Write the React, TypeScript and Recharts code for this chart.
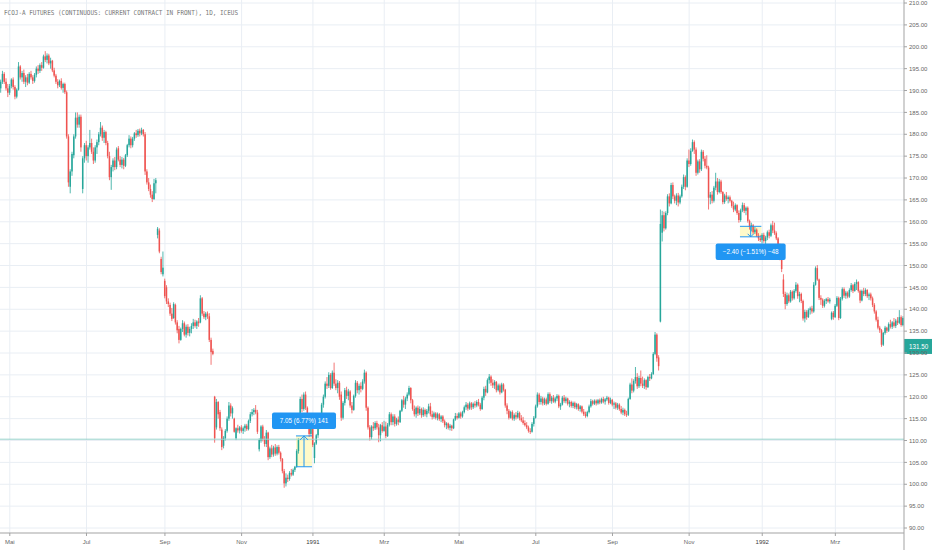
import React, { useState } from 'react';
import { createPortal } from 'react-dom';
import { ComposedChart, Bar, XAxis, YAxis, CartesianGrid, ReferenceLine, ReferenceArea } from 'recharts';

type C = [number, number, number, number]; // open, high, low, close

const apr90: C[] = [
  [190.5,192.5,189.5,192],[192,194.5,191.5,193.8],[193.8,194.2,191.5,192],[192,192.8,190,190.5],[190.5,191.5,188.5,189.5],
];
const mayJun90: C[] = [
  [189.5,191.5,189,191],[191,192.8,190.5,192.5],[192.5,193,190.2,190.8],[190.8,191.2,188,188.6],[188.6,190.5,188.2,190.2],
  [190.2,196.5,190,195.5],[195.5,195.8,192.5,193],[193,194.5,192,194],[194,194.8,191.5,192],[192,193.5,190.8,193],
  [193,193.8,191.2,191.8],[191.8,194.2,191.5,193.8],[193.8,194.5,192.5,193],[193,193.5,191.5,192.2],[192.2,194,191.8,193.6],
  [193.6,195.5,193,195],[195,195.8,193.8,194.5],[194.5,196.2,194,195.8],[195.8,196.5,194.5,195.2],[195.2,198.2,195,197.8],
  [197.8,199,196.5,197],[197,198.5,196.2,198],[198,198.4,195.8,196.2],[196.2,197.5,195,196.8],[196.8,197,194.2,194.6],
  [194.6,195.2,193,193.4],[193.4,193.8,191.5,192],[192,192.6,190.5,191.2],[191.2,192.5,190.8,192.2],[192.2,192.8,190.2,190.6],
  [190.6,191.8,189.5,191.5],[191.5,191.8,189.2,189.6],[189.6,190,179,179.5],[179.5,180,168,169],[168,172,166.5,171.5],
  [171.5,176,170.5,175.5],[175.2,180,174.5,179.5],[179.5,185,179,183.8],[183.8,185,181.5,182.2],[182.2,184.5,181.5,184],
  [184,184.5,176,177],[167.5,175,166.5,174.5],[174.5,178,173.5,177.5],
];
const julAug90: C[] = [
  [177.5,178.5,174,175],[175,177.5,173.5,177],[177,181,176.5,178],[178,179,175.5,176],[176,177,173.2,174],
  [174,177.5,173.5,177],[177,178.8,175.5,178.2],[178.2,180.5,177.5,180],[180,182.8,179.5,181.5],[181.5,182,178.5,179.2],
  [179.2,181,178,180.5],[180.5,180.8,177.5,178],[178,178.5,174.5,175],[175,176,169.5,170.2],[170.2,173,167.3,172.5],
  [172.5,174.5,171.5,174],[174,174.8,171.8,172.5],[172.5,177,172,176.5],[176.8,177.3,173.8,174.2],[174.2,175,172.5,173],
  [173,174.8,172.2,174.2],[174.2,174.6,172,172.8],[172.8,175.5,172.5,175.2],[175.2,177.8,174.8,177.5],[177.5,179.8,177,179],
  [179,179.5,176.8,177.5],[177.5,179.4,177,179],[179,180.5,178.5,180.2],[180.2,181,179.2,179.8],[179.8,181.2,179.4,180.8],
  [180.8,181.3,179.5,180.2],[180.2,181.5,179.8,181],[181,181.2,179.5,180],[180,180.5,170.7,171.5],[171.5,172,168.5,169],
  [169,170,167,167.5],[167.5,168.5,165.5,166.2],[166.2,167,164.5,165.2],[165.2,169.8,165,168.8],[168.8,170,166.5,169.5],
  [157,158.8,156.2,158.4],[158,158.5,152.8,153.2],[151.5,152,148,148.5],[148,153.2,147.5,149.5],
];
const sepOct90: C[] = [
  [146.5,147,142.5,143],[145,145.5,141.2,141.8],[141.8,142.5,140.5,141.2],[141,141.5,138.5,139],[139,140.3,137.3,137.8],
  [138,141.6,137.8,141.2],[141,141.3,136.5,137],[137,137.5,134.5,135.2],[135.5,136.2,132.2,133],[133,135.8,132.8,135.5],
  [135.5,137.5,134.8,136.8],[136.8,137.2,133.8,134.2],[134.2,136.5,133.5,136],[136,136.6,134,134.6],[134.6,136,133.8,135.5],
  [135.5,136.8,134.5,136.2],[136.2,137.8,135.5,137],[137,137.6,135.8,136.2],[136.2,137.5,135.5,137.2],[137.2,138,136,136.8],
  [137,143.2,136.8,142.5],[142.5,142.8,138.5,139],[139,139.6,137.8,138.2],[138.2,139.4,137.5,139],[139,139.5,137.8,138.4],
  [138.4,139.1,132.5,133],[133,133.5,127.3,130.2],[130.5,131,129.5,129.8],[120,120.2,109.5,110.5],[113,119.5,112.5,118.8],
  [118.8,119,115,116],[116.5,117,112.2,112.8],[112.5,113,107.8,108.5],[108.8,111,108.2,110.6],[110.5,112.6,110,112.2],
  [112.2,115.5,111.8,115],[115,118.8,114.5,118],[118,118.5,115.5,116.2],[116.2,117.8,115,117.4],[115,115.2,111.8,112],
  [110.5,113,110.1,112.8],[112.8,113.6,111.8,112.3],[112.3,113.3,111.6,113],
];
const novDec90: C[] = [
  [113,113.5,111.8,112.2],[112.2,113.2,111.5,112.8],[112.8,113.8,112,113.4],[113.4,113.8,112.2,112.6],[112.6,114.8,112.3,114.5],
  [114.5,116.5,114,116],[116,117.2,115.5,116.5],[116.5,117.4,115.8,117],[117,118.1,116,116.4],[116.4,117,111.5,112],
  [108,110.5,107.5,110.1],[110,113.5,109.5,113.2],[113.2,113.6,109.8,110.3],[110.3,111,108.6,109.2],[109.2,112.4,108.5,111.8],
  [111.8,112,105.5,106.2],[106.2,108.6,105.8,108.2],[108.2,109,106.2,106.8],[106.8,108.8,106.3,108.4],[108.4,109.2,106.5,107],
  [107,108.9,106.6,108.5],[108.5,109,106.8,107.2],[107.2,107.5,105.2,105.8],[105.8,106,102.5,103],[103,103.5,99.2,100.2],
  [100.2,102.5,99.5,101.5],[101.5,102.2,100.5,101.2],[101.2,103,100.8,102.6],[102.6,103.5,101.8,102.2],[102.2,103.6,101.9,103.3],
  [103.3,104.2,102.8,104],[104,108,103.8,107.6],[107.6,110.5,107,110.1],[113,120,112.8,119.5],[119.5,120.5,116.5,117.2],
  [117.2,121,116.8,120.5],[120.5,121.2,117,117.5],[117.5,117.8,113.5,114],[114,114.5,110.8,111.5],[111.5,114.2,111,113.5],
];
const janFeb91: C[] = [
  [113.5,114,108.5,109],[106,109.6,104.8,109.3],[109.3,111.5,109,111.2],[111.2,113.3,110.6,113],[113,115.5,112.6,115.2],
  [115.2,118.6,115,118.2],[118.2,120.5,117.5,120],[120,123.5,119.6,123],[123,124.5,121.8,122.5],[122.5,125.6,122,125],
  [125,125.4,121.6,122],[122,126,121.8,125.5],[125.5,127.8,122.5,123],[123,124,121.5,122],[122,123.8,120.8,123.2],
  [123.2,123.6,119.3,120],[120.5,121.2,114.5,115.2],[115.2,119,114.8,118.6],[118.6,122,118,121.5],[121.5,122.3,119.5,120.2],
  [120.2,121.8,119.2,121.2],[121.2,121.5,117.5,118],[118,118.8,116.2,117],[117,120.5,116.8,120.2],[120.2,123.8,119.8,123.2],
  [123.2,123.6,120.8,121.5],[121.5,123,120.5,122.5],[122.5,123.3,121,121.8],[121.8,124,121.5,123.5],[123.5,126.2,123,125.5],
  [125.5,125.8,116.8,117.5],[117.5,117.8,112.5,113],[113,113.5,110,110.8],[110.8,113.5,110.2,113.2],[113.2,114.2,112.2,112.8],
  [112.8,114.4,112.4,114],[114,114.5,112.5,113],[113,113.8,109.6,111.2],[111.2,113.8,109.8,113.5],[113.5,114.2,111.8,112.2],
];
const marApr91: C[] = [
  [112.2,114.5,112,113.2],[113.2,114.3,110.5,111],[111,114,110.8,113.6],[113.6,116.5,113.2,116],[116,116.4,113.5,114.2],
  [114.2,116,113.5,115.5],[115.5,116,113.2,113.8],[113.8,115.2,113.4,114.8],[114.8,115.5,113.5,114.2],[114.2,117,114,116.8],
  [116.8,119.5,116.5,119.2],[119.2,120.2,117.5,118.2],[118.2,120,117.2,119.6],[119.6,121,119,120.5],[120.5,122.5,120.2,122],
  [122,122.2,118.5,119.2],[119.2,119.5,116.8,117.2],[117.2,118,115.5,116],[116,117.8,115.2,117.5],[117.5,118,115.6,116.2],
  [116.2,117.8,115.8,117.2],[117.2,117.5,115.2,115.8],[115.8,117.6,115.4,117],[117,117.3,115.5,116],[116,117.2,115.3,116.8],
  [116.8,118.4,116.2,117.8],[117.8,118.6,115.5,116],[116,116.8,114.8,115.4],[115.4,116.6,115,116.2],[116.2,116.5,114.8,115.2],
  [115.2,116.4,114.6,116],[116,116.3,114.5,114.9],[114.9,115.8,114.2,115.5],[115.5,115.8,114,114.4],[114.4,114.8,113,113.5],
  [113.5,114.2,112.6,113.9],[113.9,114.1,112.5,112.9],[112.9,113.8,112.3,113.4],[113.4,113.6,112.2,112.8],[112.8,115,112.6,114.8],
  [114.8,116.3,114.5,115.6],[115.6,116.2,114.8,115.2],
];
const mayJun91: C[] = [
  [115.2,116.5,115,116.2],[116.2,116.6,115,115.5],[115.5,116.8,115.2,116.5],[116.5,118,116.2,117.6],[117.6,118.8,117,118.2],
  [118.2,118.6,116.8,117.3],[117.3,118.9,117,118.5],[118.5,118.8,117,117.6],[117.6,118.7,117.2,118.4],[118.4,119,117.5,118],
  [118,119.2,117.6,118.8],[118.8,119.5,117.8,118.2],[118.2,118.6,116.8,117.2],[117.2,120.2,117,119.8],[119.8,122.3,119.2,121.8],
  [121.8,122.5,120.2,121],[121,124.2,120.8,123.8],[123.8,125.2,123,124.6],[124.6,124.9,122.5,123.2],[123.2,124,122,122.6],
  [122.6,123.8,121.8,123.4],[123.4,123.6,121,121.5],[121.5,123,121.2,122.6],[122.6,123,120.5,121],[121,123.2,120.8,122.8],
  [122.8,123.1,121.2,121.6],[121.6,121.8,117.5,118],[118,118.5,116,116.8],[116.8,117.2,114.8,115.2],[115.2,116.8,115,116.5],
  [116.5,116.9,114.6,115],[115,116.2,114.5,115.8],[115.8,116.5,114.8,115.3],[115.3,116.8,115,116.3],[116.3,116.6,114.6,115.1],
  [115.1,115.8,114.2,114.6],[114.6,115.4,113.6,114],[114,114.6,113.2,113.5],[113.5,114.2,112.6,113],[113,113.4,111.8,112.2],
  [112.2,112.8,111.5,112],[112,114.2,111.8,113.8],[113.8,115.6,113.2,115.2],
];
const julAug91: C[] = [
  [115.2,118.2,115,117.8],[117.8,121,117.5,120.5],[120.5,120.9,118.2,118.8],[118.8,120.2,118.2,119.6],[119.6,120,118,118.5],
  [118.5,119.8,118.1,119.4],[119.4,119.8,118,118.4],[118.4,121,118.2,120.6],[120.6,121,118.6,119],[119,120.2,118.4,119.8],
  [119.8,120.4,118.6,118.9],[118.9,120,118.5,119.6],[119.6,120.6,119,120.2],[120.2,120.5,117.4,117.8],[117.8,118.6,117,118.2],
  [118.2,120.2,118,119.8],[119.8,120.4,118.6,119],[119,120,118.5,119.6],[119.6,119.8,118,118.4],[118.4,119.2,117.6,118.8],
  [118.8,119.1,117.5,117.9],[117.9,118.9,117.4,118.6],[118.6,118.9,117.2,117.6],[117.6,118.6,117.1,118.3],[118.3,118.5,116.8,117.2],
  [117.2,118.1,116.6,117.8],[117.8,118,116.2,116.6],[116.6,117.2,115.6,116],[116,116.6,115.2,115.6],[115.6,116.8,115.3,116.5],
  [116.5,118.2,116.2,117.8],[117.8,119.5,117.5,119],[119,119.3,118,118.4],[118.4,119.4,118.1,119.1],[119.1,119.4,118,118.5],
  [118.5,119.5,118.2,119.2],[119.2,119.6,118.3,118.7],[118.7,119.8,118.4,119.5],[119.5,120,118.5,118.9],[118.9,119.7,118.2,119.4],
  [119.4,120.2,119,119.8],[119.8,120,118.2,118.6],[118.6,119.8,118.3,119.3],
];
const sepOct91: C[] = [
  [119.3,119.5,117.8,118.2],[118.2,118.9,117.2,118.5],[118.5,118.8,117.1,117.5],[117.5,118.6,117,118.2],[118.2,118.5,116.8,117.2],
  [117.2,117.9,116,116.4],[116.4,117.5,115.8,117],[117,117.3,115.6,116],[116,116.8,115.4,115.9],[115.9,119.8,115.6,119.5],
  [119.5,123.2,119.3,122.8],[122.8,124.2,120.8,121.4],[121.4,124,121,123.6],[123.6,126.8,123,124.5],[124.5,125.4,121.8,122.4],
  [122.4,124.8,122,124.3],[124.3,126,122.4,123],[123,124.6,122,122.5],[122.5,124.2,121.8,123.8],[123.8,124,121.6,122.2],
  [122.2,124.8,122,124.5],[124.5,125.2,123.6,124.2],[124.2,125.6,124,125.2],[125.2,130.2,125,129.8],[129.8,134.8,129.5,134.2],
  [134.2,134.5,128,128.8],[129,129.5,126,127],[137.2,162.8,137,159.5],[157.5,162.5,155.5,161.5],[161.5,162.3,157.8,158.5],
  [158.5,162.4,158.2,162],[162,166.3,161.5,165.8],[165.8,166.5,163.5,164.2],[164.2,168.9,164,168.4],[168.4,169,165.2,165.8],
  [165.8,166.2,164.2,164.8],[164.8,166.5,163.8,166],[166,166.6,163.5,164.4],[164.4,166.2,164,165.8],[165.8,168.5,165.5,168],
  [168,170.8,167.5,170.2],[170.2,170.6,167.2,168],[168,174.5,167.8,174],
];
const novDec91: C[] = [
  [174,176.5,172.5,173.2],[173.2,176.8,172.8,176.2],[176.2,178.8,176,178.2],[178.2,178.6,175.5,176.5],[176.5,177,170.5,171.2],
  [171.2,174.2,170.8,173.8],[173.8,174.3,171.2,172],[172,176.5,171.6,176],[176,176.4,173.8,174.4],[174.4,175,172.2,172.8],
  [172.8,175.2,172,172.4],[172.4,172.8,162.8,165.5],[165.5,166.8,164,166.2],[166.2,167,164.2,164.8],[164.8,168.2,164.4,167.8],
  [167.8,171.2,167.2,169.2],[169.2,170,166.2,166.8],[166.8,169.8,166.5,169.2],[169.2,169.6,166.4,166.8],[166.8,167,164,164.5],
  [164.5,166.4,164.1,166],[166,166.8,164.8,165.2],[165.2,166,164.2,165.6],[165.6,166,164.4,164.8],[164.8,165,163.2,163.6],
  [163.6,164.6,162.2,162.8],[162.8,164.2,162.4,163.8],[163.8,164,161.6,162],[162,162.6,159.8,160.4],[160.4,163,160,162.6],
  [162.6,164.4,162.2,163.8],[163.8,164.3,162,162.5],[162.5,163.5,161.5,163.2],[163.2,163.5,159.8,160.2],[160.2,160.5,158.2,158.8],
  [158.8,159.8,157.8,159.2],[159.2,159.5,157.2,157.6],[157.6,158.8,157.2,158.2],[158.2,158.5,156.5,156.8],[156.8,157.4,155.6,156.2],
  [156.2,157,155.4,155.8],
];
const janFeb92: C[] = [
  [155.8,157.4,155,157],[157,157.5,155.2,155.6],[155.6,156.8,154.8,156.4],[156.4,158,155.8,157.6],[157.6,158.2,156.2,156.8],
  [156.8,159.6,156.5,159.2],[159.2,160.2,157.4,158],[158,159.8,157,157.4],[157.4,157.8,155.8,156.2],[156.2,156.5,154.2,154.6],
  [154.6,155,151.2,151.6],[151.6,152,148.5,149.2],[146.8,148,142.8,143.5],[143.5,144,140,141.2],[141.2,143.8,140.8,143.2],
  [143.2,143.6,141.4,141.8],[141.8,144.4,141.5,144],[144,144.3,142,142.5],[142.5,144.6,142.2,144.2],[144.2,146.2,143.8,145.6],
  [145.6,145.9,142.4,143],[143,144,141.6,143.5],[143.5,143.8,141.4,141.9],[141.9,142.2,137.4,137.9],[137.9,139.9,137,139.4],
  [139.4,139.8,137.6,138.2],[138.2,140.2,138,139.8],[139.8,140.6,138.8,140.2],[140.2,140.8,139,139.5],[139.5,146.2,139.2,145.6],
  [145.6,149.8,145.4,149.4],[149.4,150.1,146.5,146.8],[146.8,147,142.1,142.6],[142.6,143.2,141,142.2],[142.2,142.5,140.3,140.8],
  [140.8,142.3,140.4,141.9],[141.9,142.6,141.2,142.3],[142.3,142.8,141.5,141.8],[141.8,142.6,141.3,142.2],[137.8,139.5,137.5,139.2],
  [139.2,139.6,137.6,138.2],
];
const marApr92: C[] = [
  [138.2,141.2,138,140.8],[140.8,143,140.5,142.6],[142.6,142.9,137.5,138],[138,142.8,137.8,142.4],[142.4,145,142,144.6],
  [144.6,145,142.6,143.1],[143.1,144.2,142.4,143.8],[143.8,144.1,142.5,142.9],[142.9,144.8,142.6,144.4],[144.4,146,144,145.5],
  [145.5,145.8,143.7,144.2],[144.2,146.2,144,145.8],[145.8,146.8,144.4,146.2],[146.2,146.4,143.8,144.2],[144.2,144.5,141.4,142],
  [142,144.5,141.8,144.2],[144.2,144.9,143,143.5],[143.5,144.8,143,144.4],[144.4,144.6,142.6,143],[143,143.8,142.1,143.4],
  [143.4,143.8,142,142.5],[142.5,142.9,140.5,141],[141,141.4,139,139.5],[139.5,139.8,137.2,137.6],[137.6,138.3,135.4,135.8],
  [135.8,136.2,134.6,135.2],[135.2,135.5,131.4,131.9],[131.9,134.8,131.6,134.6],[134.6,136.2,134.2,135.8],[135.8,136,134.6,135.1],
  [135.1,137,134.8,136.6],[136.6,137.6,135.6,136],[136,137.3,135.5,137],[137,138,135.8,136.2],[136.2,137.8,135.7,137.4],
  [137.4,138.2,136.4,136.9],[136.9,139.8,136.6,138.2],[138.2,138.6,136,136.4],[136.4,138.4,136.1,138],
];

// each period after the first starts with a labelled month
const periods: C[][] = [apr90, mayJun90, julAug90, sepOct90, novDec90, janFeb91, marApr91, mayJun91, julAug91, sepOct91, novDec91, janFeb92, marApr92];
const periodLabels = ['', 'Mai', 'Jul', 'Sep', 'Nov', '1991', 'Mrz', 'Mai', 'Jul', 'Sep', 'Nov', '1992', 'Mrz'];
const priceTicks = [90, 95, 100, 105, 110, 115, 120, 125, 130, 135, 140, 145, 150, 155, 160, 165, 170, 175, 180, 185, 190, 195, 200, 205, 210];
const yDomain = [88.86, 210.69];
const lastPrice = 131.5;
const levelLine = 110.3;
const range1 = { fromBar: 166, toBar: 174, low: 104.0, high: 111.05, text: '7.05 (6.77%) 141', up: true, w: 64 };
const range2 = { fromBar: 415, toBar: 426, low: 156.56, high: 158.96, text: '\u22122.40 (\u22121.51%) \u221248', up: false, w: 70 };
const title = 'FCOJ-A FUTURES (CONTINUOUS: CURRENT CONTRACT IN FRONT), 1D, ICEUS';

const data = periods.flat().map(([open, high, low, close], i) => ({ i, open, high, low, close, range: [low, high] }));
const tickIdx: number[] = [];
const tickLabel: Record<number, string> = {};
{
  let acc = 0;
  periods.forEach((p, k) => {
    if (k > 0) { tickIdx.push(acc); tickLabel[acc] = periodLabels[k]; }
    acc += p.length;
  });
}

const GREEN = '#26a69a';
const RED = '#ef5350';
const BLUE = '#2196f3';
const AXIS = '#a3a3a3';
const GRID = '#e9eef4';
const FONT = "'Liberation Sans', Arial, sans-serif";

const Candle = (props: any) => {
  const { x, y, width, height, payload } = props;
  if (x == null || y == null || !payload) return null;
  const { open, high, low, close } = payload;
  const top = Math.min(y, y + height);
  const span = Math.abs(height);
  const k = span / (high - low);
  const yO = top + (high - open) * k;
  const yC = top + (high - close) * k;
  const color = close >= open ? GREEN : RED;
  const cx = x + width / 2;
  const bTop = Math.min(yO, yC);
  const bH = Math.max(Math.abs(yC - yO), 0.7);
  return (
    <g>
      <line x1={cx} x2={cx} y1={top} y2={top + span} stroke={color} strokeWidth={0.8} />
      <rect x={cx - 0.75} y={bTop} width={1.5} height={bH} fill={color} />
    </g>
  );
};

const RangeDecor = (props: any) => {
  const { viewBox, text, up, w, layer } = props;
  if (!viewBox || !layer) return null;
  const { x, y, width, height } = viewBox;
  const cx = x + width / 2;
  const bottom = y + height;
  const h = 16.5;
  const boxTop = up ? y - 7 - h : bottom + 6.6;
  const tipY = up ? y : bottom;
  const baseY = up ? bottom : y;
  const d = up ? 4 : -3;
  return createPortal(
    <g>
      <line x1={x} x2={x + width} y1={y} y2={y} stroke={BLUE} strokeWidth={1} />
      <line x1={x} x2={x + width} y1={bottom} y2={bottom} stroke={BLUE} strokeWidth={1} />
      <line x1={cx} x2={cx} y1={baseY} y2={tipY} stroke={BLUE} strokeWidth={1} />
      <polyline points={`${cx - Math.abs(d)},${tipY + d} ${cx},${tipY} ${cx + Math.abs(d)},${tipY + d}`} fill="none" stroke={BLUE} strokeWidth={1} />
      <rect x={cx - w / 2} y={boxTop} width={w} height={h} rx={2} fill={BLUE} />
      <text x={cx} y={boxTop + h / 2} textAnchor="middle" dominantBaseline="central" fill="#fff" fontSize={6.3} fontFamily={FONT}>{text}</text>
    </g>,
    layer
  );
};

const PriceTag = (props: any) => {
  const { viewBox, value } = props;
  if (!viewBox) return null;
  const ax = viewBox.x + viewBox.width;
  const yy = viewBox.y;
  return (
    <g>
      <rect x={ax} y={yy - 7.5} width={28} height={15} fill={GREEN} />
      <text x={ax + 5} y={yy} dominantBaseline="central" fill="#fff" fontSize={6.3} fontFamily={FONT}>{value.toFixed(2)}</text>
    </g>
  );
};

const XTick = (props: any) => {
  const { x, y, payload } = props;
  const lbl = tickLabel[payload.value] ?? '';
  const isYear = /^\d{4}$/.test(lbl);
  return (
    <text x={x} y={y} dy="0.71em" textAnchor="middle" fontSize={6} fontFamily={FONT} fill={isYear ? '#3a3a3a' : '#666'}>{lbl}</text>
  );
};

export default function App() {
  const [layer, setLayer] = useState<SVGGElement | null>(null);
  return (
    <div style={{ position: 'absolute', left: 0, top: 0, width: 932, height: 550, background: '#fff', overflow: 'hidden' }}>
      <ComposedChart width={932} height={550} data={data} margin={{ top: 0, right: 0, bottom: 0, left: 0 }}>
        <CartesianGrid stroke={GRID} strokeWidth={1} syncWithTicks />
        <XAxis
          dataKey="i"
          type="category"
          ticks={tickIdx}
          interval={0}
          height={17}
          tickSize={3}
          tickMargin={4}
          axisLine={{ stroke: AXIS }}
          tickLine={{ stroke: AXIS }}
          tick={<XTick />}
        />
        <YAxis
          orientation="right"
          type="number"
          domain={yDomain}
          allowDataOverflow
          ticks={priceTicks}
          interval={0}
          width={28}
          tickSize={3}
          tickMargin={2}
          tickFormatter={(v: number) => v.toFixed(2)}
          tick={{ fontSize: 6, fill: '#666', fontFamily: FONT }}
          axisLine={{ stroke: AXIS }}
          tickLine={{ stroke: AXIS }}
        />
        <ReferenceLine y={levelLine} stroke="#97d3cb" strokeWidth={1} />
        <Bar dataKey="range" isAnimationActive={false} shape={(p: any) => <Candle {...p} />} />
        <ReferenceArea
          x1={range1.fromBar}
          x2={range1.toBar}
          y1={range1.low}
          y2={range1.high}
          fill="#fff59d"
          fillOpacity={0.55}
          stroke="none"
          label={<RangeDecor text={range1.text} up={range1.up} w={range1.w} layer={layer} />}
        />
        <ReferenceArea
          x1={range2.fromBar}
          x2={range2.toBar}
          y1={range2.low}
          y2={range2.high}
          fill="#fff59d"
          fillOpacity={0.55}
          stroke="none"
          label={<RangeDecor text={range2.text} up={range2.up} w={range2.w} layer={layer} />}
        />
        <ReferenceLine y={lastPrice} stroke="none" label={<PriceTag value={lastPrice} />} />
      </ComposedChart>
      <svg width={932} height={550} style={{ position: 'absolute', left: 0, top: 0, pointerEvents: 'none' }}>
        <text x={4} y={15} fontSize={6.8} fontFamily="'DejaVu Sans Mono', monospace" fill="#7a7a7a" textLength={234} lengthAdjust="spacingAndGlyphs">{title}</text>
        <line x1={904} x2={904} y1={533} y2={550} stroke={AXIS} strokeWidth={1} />
        <g ref={setLayer} />
      </svg>
    </div>
  );
}
